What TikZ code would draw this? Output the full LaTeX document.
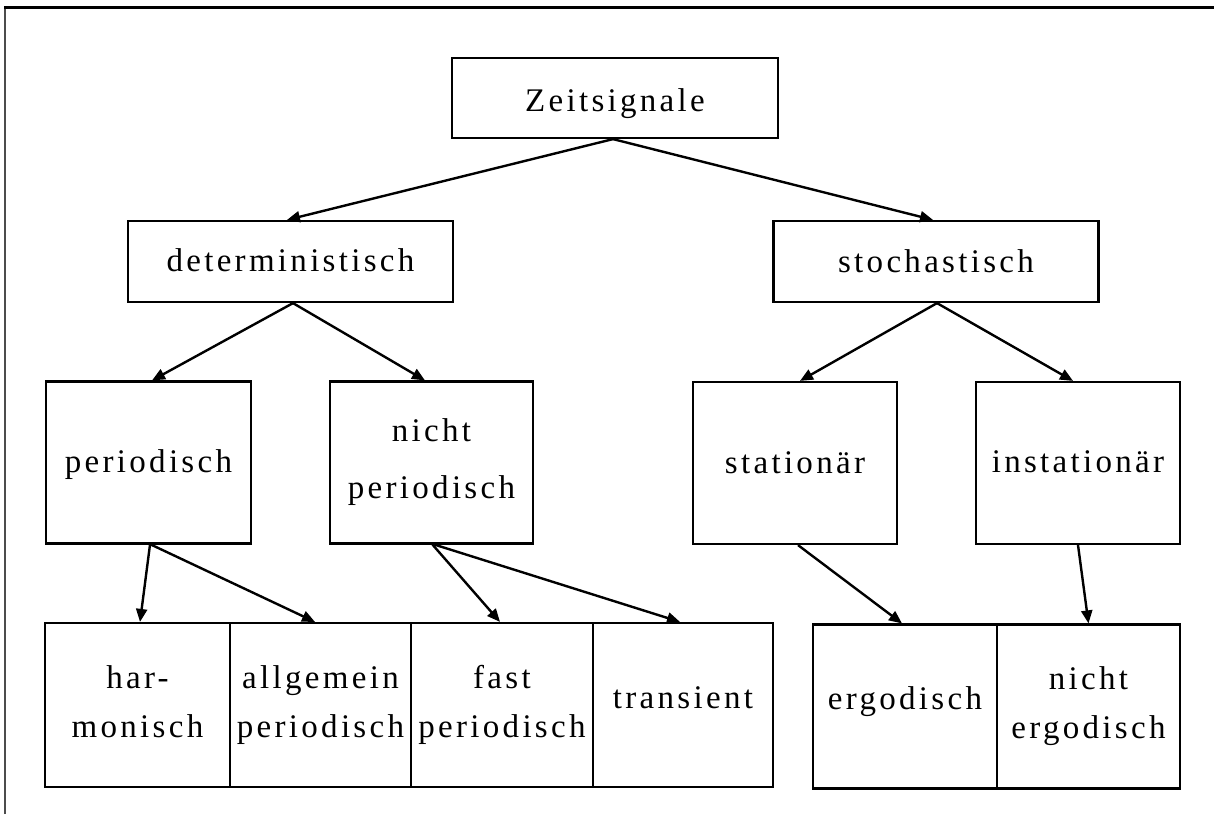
\documentclass[tikz,border=0pt]{standalone}
\usepackage{fontspec}
\setmainfont{Liberation Serif}[LetterSpace=10]
\usetikzlibrary{arrows.meta}

% keeps first-line height and last-line depth equal in two-line labels
\newcommand\tallp{\vphantom{hp}}

\tikzset{
  box/.style={draw, line width=2.2pt, inner sep=0pt, align=center,
    font=\fontsize{33}{49}\selectfont},
  % single-line labels: baseline sits (h-d)/2 below the box centre
  shiftbase/.style={text depth=7pt, text height={2*#1+7}},
  upper/.style={box, minimum width=325pt, minimum height=81pt},
  middle/.style={box, minimum height=162pt},
  lower/.style={box, minimum height=164pt},
  link/.style={line width=2.4pt, -{Triangle[length=13pt,width=11pt]}},
}

\begin{document}
\begin{tikzpicture}[x=1pt, y=-1pt]
  \useasboundingbox (0,0) rectangle (1214,814);

  % outer frame (only top and left edges fall inside the page)
  \draw[line width=1.6pt, black!70] (5,814) -- (5,7.5);
  \draw[line width=2.6pt] (4.2,7.5) -- (1214,7.5);

  % level 0
  \node[box, minimum width=326pt, minimum height=80pt, shiftbase=13.5pt] (zeit) at (615,98) {Zeitsignale};

  % level 1
  \node[upper, shiftbase=10pt] (det) at (290.5,261.5) {deterministisch};
  \node[upper, shiftbase=11pt] (sto) at (936,261.5)   {stochastisch};

  % level 2
  \node[middle, minimum width=205pt, shiftbase=10pt] (per) at (148.5,462.5) {periodisch};
  \node[middle, minimum width=203pt] (nper) at (431.5,462.5) {\tallp nicht\\[8pt]periodisch\tallp};
  \node[middle, minimum width=204pt, shiftbase=10pt] (stat) at (795,463)  {stationär};
  \node[middle, minimum width=204pt, shiftbase=9pt]  (inst) at (1078,463) {instationär};

  % level 3
  \node[lower, minimum width=185pt] (harm) at (137.5,705) {\tallp har-\\monisch\tallp};
  \node[lower, minimum width=181pt] (allg) at (320.5,705) {\tallp allgemein\\periodisch\tallp};
  \node[lower, minimum width=182pt] (fast) at (502,705)   {\tallp fast\\periodisch\tallp};
  \node[lower, minimum width=180pt, shiftbase=3.5pt] (tran) at (683,705) {transient};
  \node[lower, minimum width=184pt, shiftbase=2.5pt] (erg)  at (905,706.5) {ergodisch};
  \node[lower, minimum width=183pt] (nerg) at (1088.5,706.5) {\tallp nicht\\ergodisch\tallp};

  % connectors
  \draw[link] ([xshift=-2pt]zeit.south) -- ([xshift=-3.5pt]det.north);
  \draw[link] ([xshift=-2pt]zeit.south) -- ([xshift=-3pt]sto.north);

  \draw[link] ([xshift=2.5pt]det.south) -- ([xshift=3.5pt]per.north);
  \draw[link] ([xshift=2.5pt]det.south) -- ([xshift=-6.5pt]nper.north);
  \draw[link] ([xshift=1pt]sto.south) -- ([xshift=5pt]stat.north);
  \draw[link] ([xshift=1pt]sto.south) -- ([xshift=-5pt]inst.north);

  \draw[link] ([xshift=1.5pt]per.south) -- ([xshift=2.5pt]harm.north);
  \draw[link] ([xshift=2.5pt]per.south) -- ([xshift=-5.5pt]allg.north);
  \draw[link] ([xshift=1pt]nper.south) -- ([xshift=-2pt]fast.north);
  \draw[link] ([xshift=3pt]nper.south) -- ([xshift=-3pt]tran.north);
  \draw[link] ([xshift=3pt]stat.south) -- ([xshift=-3pt]erg.north);
  \draw[link] (inst.south) -- (nerg.north);
\end{tikzpicture}
\end{document}
